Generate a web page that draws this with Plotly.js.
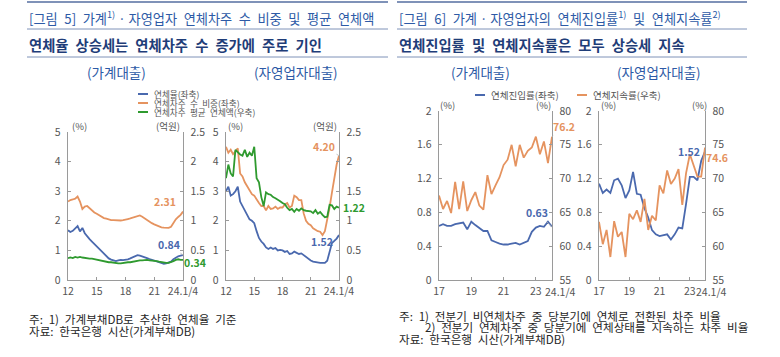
<!DOCTYPE html>
<html><head><meta charset="utf-8">
<script src="https://cdn.plot.ly/plotly-3.0.1.min.js"></script>
<style>html,body{margin:0;padding:0;background:#fff}#chart{width:780px;height:357px}</style>
</head><body><div id="chart"></div>
<script>
// ---------- DATA ----------
// Fig 5: quarterly, 2012Q1 .. 2024Q1
const fig5Start = 2012, fig5Count = 49;
const hhRate  = [1.68,1.62,1.66,1.74, 1.82,1.64,1.76,1.58, 1.46,1.38,1.30,1.22, 1.13,1.03,0.95,0.87, 0.79,0.73,0.69,0.66, 0.64,0.66,0.68,0.67, 0.68,0.70,0.73,0.76, 0.79,0.84,0.82,0.80, 0.78,0.74,0.71,0.69, 0.67,0.63,0.60,0.57, 0.55,0.56,0.58,0.62, 0.70,0.76,0.80,0.82, 0.84];
const hhShare = [2.65,2.70,2.72,2.75, 2.82,2.65,2.40,2.48, 2.50,2.42,2.33,2.28, 2.24,2.18,2.12,2.09, 2.07,2.04,2.02,2.02, 2.01,2.02,2.01,2.02, 2.03,2.06,2.08,2.10, 2.12,2.15,2.18,2.14, 2.08,2.02,1.97,1.92, 1.88,1.84,1.80,1.78, 1.77,1.76,1.76,1.80, 1.95,2.05,2.13,2.20, 2.31];
const hhAmt   = [0.37,0.38,0.37,0.39, 0.38,0.39,0.38,0.37, 0.37,0.36,0.36,0.35, 0.34,0.33,0.33,0.32, 0.31,0.30,0.30,0.29, 0.28,0.28,0.28,0.29, 0.29,0.30,0.30,0.31, 0.32,0.33,0.33,0.33, 0.34,0.34,0.33,0.33, 0.33,0.32,0.31,0.30, 0.30,0.29,0.29,0.30, 0.32,0.34,0.35,0.34, 0.34];
const seRate  = [3.00,3.15,2.85,2.90, 3.00,3.15,2.65,2.50, 2.35,2.20,2.05,2.00, 1.92,1.65,1.42,1.30, 1.22,1.10,1.05,1.10, 1.05,1.08,1.00,1.02, 1.00,0.95,0.98,0.88, 0.90,0.96,0.92,0.88, 0.90,0.84,0.78,0.70, 0.66,0.62,0.60,0.58, 0.58,0.58,0.58,0.65, 1.00,1.25,1.32,1.40, 1.52];
const seShare = [4.50,4.30,4.40,4.25, 4.35,4.45,3.60,3.50, 3.30,3.15,3.00,2.90, 2.85,2.70,2.60,2.50, 2.50,2.35,2.50,2.40, 2.42,2.48,2.40,2.45, 2.45,2.55,2.60,2.45, 2.50,2.85,2.80,2.70, 2.70,2.25,2.00,1.90, 1.85,1.75,1.70,1.65, 1.63,1.52,1.65,2.00, 2.45,2.95,3.50,3.90, 4.20];
const seAmt   = [1.72,1.95,1.80,1.75, 2.20,2.15,2.12,2.10, 2.20,2.08,2.15,2.10, 2.25,1.72,1.65,1.40, 1.25,1.48,1.45,1.44, 1.40,1.38,1.36,1.33, 1.30,1.28,1.22,1.18, 1.20,1.15,1.20,1.17, 1.21,1.18,1.17,1.16, 1.16,1.13,1.18,1.12, 1.15,1.10,1.06,1.07, 1.27,1.26,1.20,1.24, 1.22];
const fig5Names = ['연체율(좌축)', '연체차주 수 비중(좌축)', '연체차주 평균 연체액(우축)'];
const fig5TickYears = [2012, 2015, 2018, 2021, 2024];
const fig5TickText  = ['12', '15', '18', '21', '24.1/4'];

// Fig 6: quarterly, 2017Q1 .. 2024Q1
const fig6Start = 2017, fig6Count = 29;
const hhEntry   = [0.64,0.66,0.64,0.64, 0.66,0.67,0.68,0.60, 0.69,0.65,0.61,0.58, 0.58,0.47,0.45,0.43, 0.42,0.42,0.43,0.44, 0.42,0.44,0.46,0.57, 0.62,0.64,0.63,0.69, 0.63];
const hhPersist = [67.5,65.5,66.7,64.9, 69.5,65.5,69.6,65.2, 66.8,68.0,66.0,65.4, 70.5,67.7,69.0,70.2, 72.0,72.8,75.0,71.8, 75.0,73.1,74.1,74.6, 76.2,73.6,75.5,72.3, 76.2];
const seEntry   = [1.14,1.03,1.07,1.03, 1.18,1.20,1.12,0.97, 1.06,1.28,1.02,1.01, 0.85,0.74,0.59,0.54, 0.52,0.53,0.54,0.48, 0.54,0.62,0.61,0.90, 1.22,1.22,1.18,1.41, 1.52];
const sePersist = [63.6,60.3,62.4,58.4, 63.7,61.4,62.1,58.4, 64.8,64.0,65.3,63.6, 67.0,62.4,64.5,63.8, 69.0,67.8,71.2,69.2, 70.0,71.4,66.1,70.8, 73.6,72.1,70.3,70.3, 74.6];
const fig6Names = ['연체진입률(좌축)', '연체지속률(우축)'];
const fig6TickYears = [2017, 2019, 2021, 2023, 2024];
const fig6TickText  = ['17', '19', '21', '23', '24.1/4'];

// ---------- STYLE ----------
const W = 780, H = 357;
const FONT = 'Noto Sans CJK KR, Noto Sans, sans-serif';
const BLUE = '#4a69ae', ORANGE = '#e5935f', GREEN = '#2f9a2f';
const TITLE_BLUE = '#2d5aa6', SUB_NAVY = '#1f3d78', RULE = '#7f92b8', AXIS = '#9a9a9a', TXT = '#555';
const px = x => x / W, py = y => 1 - y / H;
// wide word spacing like the original typeface (but keep the middle dot tight)
const sp = s => s.replace(/ /g, '\u2002').replace(/\u2002·\u2002/g, ' · ');

const quarterX = (start, n) => Array.from({length: n}, (_, i) => start + i / 4);
const x5 = quarterX(fig5Start, fig5Count);
const x6 = quarterX(fig6Start, fig6Count);

function line(x, y, color, xa, ya, name) {
  return {type: 'scatter', mode: 'lines', x: x, y: y, name: name, xaxis: xa, yaxis: ya,
          line: {color: color, width: 1.8}, hoverinfo: 'skip'};
}

const traces = [
  line(x5, hhAmt, GREEN, 'x', 'y2', fig5Names[2]),
  line(x5, hhShare, ORANGE, 'x', 'y', fig5Names[1]),
  line(x5, hhRate, BLUE, 'x', 'y', fig5Names[0]),
  line(x5, seAmt, GREEN, 'x2', 'y4', fig5Names[2]),
  line(x5, seShare, ORANGE, 'x2', 'y3', fig5Names[1]),
  line(x5, seRate, BLUE, 'x2', 'y3', fig5Names[0]),
  line(x6, hhPersist, ORANGE, 'x3', 'y6', fig6Names[1]),
  line(x6, hhEntry, BLUE, 'x3', 'y5', fig6Names[0]),
  line(x6, sePersist, ORANGE, 'x4', 'y8', fig6Names[1]),
  line(x6, seEntry, BLUE, 'x4', 'y7', fig6Names[0]),
];

const tickFont = {family: FONT, size: 10.5, color: TXT};
function xAxis(l, r, range, tv, tt, anchor) {
  return {domain: [px(l), px(r)], anchor: anchor, range: range, tickvals: tv, ticktext: tt, tickangle: 0,
          showline: true, linecolor: AXIS, linewidth: 1.3, ticks: 'inside', ticklen: 3, tickcolor: AXIS,
          showgrid: false, zeroline: false, tickfont: tickFont, fixedrange: true, ticklabelstandoff: 1};
}
function yAxis(t, b, range, dtick, anchor, side, overlay) {
  const a = {domain: [py(b), py(t)], anchor: anchor, range: range, dtick: dtick, side: side,
          showline: true, linecolor: AXIS, linewidth: 1.3, ticks: 'inside', ticklen: 3, tickcolor: AXIS,
          showgrid: false, zeroline: false, tickfont: tickFont, fixedrange: true, ticklabelstandoff: 4};
  if (overlay) a.overlaying = overlay;
  return a;
}

// panel boxes (pixels)
const P = [
  {l: 68,  r: 183, t: 132, b: 280},
  {l: 226, r: 339, t: 132, b: 280},
  {l: 439, r: 552, t: 111, b: 280},
  {l: 599, r: 705, t: 111, b: 280},
];
const r6 = [fig6Start, 2024];
// fig 6: last tick label is drawn a little to the right of its tick (as in the original)
const nMain6 = fig6TickYears.length - 1;
const fig6AxisText = fig6TickText.slice(0, nMain6).concat(['']);

const layout = {
  width: W, height: H, margin: {l: 0, r: 0, t: 0, b: 0},
  paper_bgcolor: '#fff', plot_bgcolor: 'rgba(0,0,0,0)', showlegend: false,
  font: {family: FONT, color: TXT},
  xaxis:  xAxis(P[0].l, P[0].r, [2012, 2024], fig5TickYears, fig5TickText, 'y'),
  yaxis:  yAxis(P[0].t, P[0].b, [0, 5], 1, 'x', 'left'),
  yaxis2: yAxis(P[0].t, P[0].b, [0, 2.5], 0.5, 'x', 'right', 'y'),
  xaxis2: xAxis(P[1].l, P[1].r, [2012, 2024], fig5TickYears, fig5TickText, 'y3'),
  yaxis3: yAxis(P[1].t, P[1].b, [0, 5], 1, 'x2', 'left'),
  yaxis4: yAxis(P[1].t, P[1].b, [0, 2.5], 0.5, 'x2', 'right', 'y3'),
  xaxis3: xAxis(P[2].l, P[2].r, r6, fig6TickYears, fig6AxisText, 'y5'),
  yaxis5: yAxis(P[2].t, P[2].b, [0, 2], 0.4, 'x3', 'left'),
  yaxis6: yAxis(P[2].t, P[2].b, [55, 80], 5, 'x3', 'right', 'y5'),
  xaxis4: xAxis(P[3].l, P[3].r, r6, fig6TickYears, fig6AxisText, 'y7'),
  yaxis7: yAxis(P[3].t, P[3].b, [0, 2], 0.4, 'x4', 'left'),
  yaxis8: yAxis(P[3].t, P[3].b, [55, 80], 5, 'x4', 'right', 'y7'),
  shapes: [], annotations: []
};

function hline(x0, x1, y, w) {
  layout.shapes.push({type: 'line', xref: 'paper', yref: 'paper', x0: px(x0), x1: px(x1), y0: py(y), y1: py(y),
                      line: {color: RULE, width: w}});
}
function txt(x, y, text, size, color, anchor, extra) {
  layout.annotations.push(Object.assign({xref: 'paper', yref: 'paper', x: px(x), y: py(y), text: text,
    showarrow: false, xanchor: anchor || 'left', yanchor: 'middle',
    font: {family: FONT, size: size, color: color}}, extra || {}));
}
// shifted last tick label for fig 6 panels
[['x3', 8], ['x4', 6]].forEach(([xa, sh]) => {
  layout.annotations.push({xref: xa, yref: 'paper', x: fig6TickYears[nMain6], y: py(291.5), text: fig6TickText[nMain6],
    showarrow: false, xanchor: 'center', yanchor: 'middle', xshift: sh, font: tickFont});
});

// header rules
[[27, 388], [397, 747]].forEach(([a, b]) => { hline(a, b, 2, 2); hline(a, b, 29, 1); hline(a, b, 57, 1); });

// titles
txt(27, 17, sp('[그림 5] 가계<sup>1)</sup> · 자영업자 연체차주 수 비중 및 평균 연체액'), 13.2, TITLE_BLUE);
txt(27, 44, '<b>' + sp('연체율 상승세는 연체차주 수 증가에 주로 기인') + '</b>', 14.3, SUB_NAVY);
txt(397, 17, sp('[그림 6] 가계 · 자영업자의 연체진입률<sup>1)</sup> 및 연체지속률<sup>2)</sup>'), 13.2, TITLE_BLUE);
txt(397, 44, '<b>' + sp('연체진입률 및 연체지속률은 모두 상승세 지속') + '</b>', 14.3, SUB_NAVY);
txt(116, 72, '(가계대출)', 13.5, TITLE_BLUE, 'center');
txt(296, 72, '(자영업자대출)', 13.5, TITLE_BLUE, 'center');
txt(480, 72, '(가계대출)', 13.5, TITLE_BLUE, 'center');
txt(659, 72, '(자영업자대출)', 13.5, TITLE_BLUE, 'center');

// legends (manual)
function legItem(x, y, color, name, size) {
  layout.shapes.push({type: 'line', xref: 'paper', yref: 'paper', x0: px(x), x1: px(x + 10), y0: py(y), y1: py(y),
                      line: {color: color, width: 2}});
  txt(x + 14, y, sp(name), size, TXT);
}
legItem(138, 94, BLUE, fig5Names[0], 8.6);
legItem(138, 103, ORANGE, fig5Names[1], 8.6);
legItem(138, 112, GREEN, fig5Names[2], 8.6);
legItem(475, 95, BLUE, fig6Names[0], 9.5);
legItem(577, 95, ORANGE, fig6Names[1], 9.5);

// units
txt(79, 126, '(%)', 9.5, TXT, 'center');   txt(168, 126, '(억원)', 9.5, TXT, 'center');
txt(235, 126, '(%)', 9.5, TXT, 'center');  txt(325, 126, '(억원)', 9.5, TXT, 'center');
txt(448, 105, '(%)', 9.5, TXT, 'center');  txt(543, 105, '(%)', 9.5, TXT, 'center');
txt(608, 105, '(%)', 9.5, TXT, 'center');  txt(699, 105, '(%)', 9.5, TXT, 'center');

// end-value labels anchored to last data point
function endLabel(xr, yr, xs, ys, digits, color, dx, dy, leader) {
  const xv = xs[xs.length - 1], yv = ys[ys.length - 1];
  const a = {xref: xr, yref: yr, x: xv, y: yv, text: '<b>' + yv.toFixed(digits) + '</b>',
             font: {family: FONT, size: 10.5, color: color}, xanchor: 'center', yanchor: 'middle'};
  if (leader) Object.assign(a, {showarrow: true, ax: dx, ay: dy, arrowhead: 0, arrowwidth: 0.8, arrowcolor: '#b5b5b5', standoff: 0, startstandoff: 0});
  else Object.assign(a, {showarrow: false, xshift: dx, yshift: -dy});
  layout.annotations.push(a);
}
endLabel('x', 'y', x5, hhShare, 2, ORANGE, -18, -10, false);
endLabel('x', 'y', x5, hhRate, 2, BLUE, -14, -11, true);
endLabel('x', 'y2', x5, hhAmt, 2, GREEN, 12, 3, false);
endLabel('x2', 'y3', x5, seShare, 2, ORANGE, -15, -9, true);
endLabel('x2', 'y3', x5, seRate, 2, BLUE, -17, 6, false);
endLabel('x2', 'y4', x5, seAmt, 2, GREEN, 15, 0, false);
endLabel('x3', 'y6', x6, hhPersist, 1, ORANGE, 12, -10, true);
endLabel('x3', 'y5', x6, hhEntry, 2, BLUE, -15, -14, true);
endLabel('x4', 'y7', x6, seEntry, 2, BLUE, -16, 0, false);
endLabel('x4', 'y8', x6, sePersist, 1, ORANGE, 12, 10, false);

// notes
const NOTE = '#262626';
txt(27, 319, sp('주: 1) 가계부채DB로 추산한 연체율 기준'), 11.6, NOTE);
txt(27, 331, sp('자료: 한국은행 시산(가계부채DB)'), 11.6, NOTE);
txt(397, 315.5, sp('주: 1) 전분기 비연체차주 중 당분기에 연체로 전환된 차주 비율'), 11.6, NOTE);
txt(423, 327, sp('2) 전분기 연체차주 중 당분기에 연체상태를 지속하는 차주 비율'), 11.6, NOTE);
txt(397, 338.5, sp('자료: 한국은행 시산(가계부채DB)'), 11.6, NOTE);

Plotly.newPlot('chart', traces, layout, {displayModeBar: false, staticPlot: true});
</script>
</body></html>
